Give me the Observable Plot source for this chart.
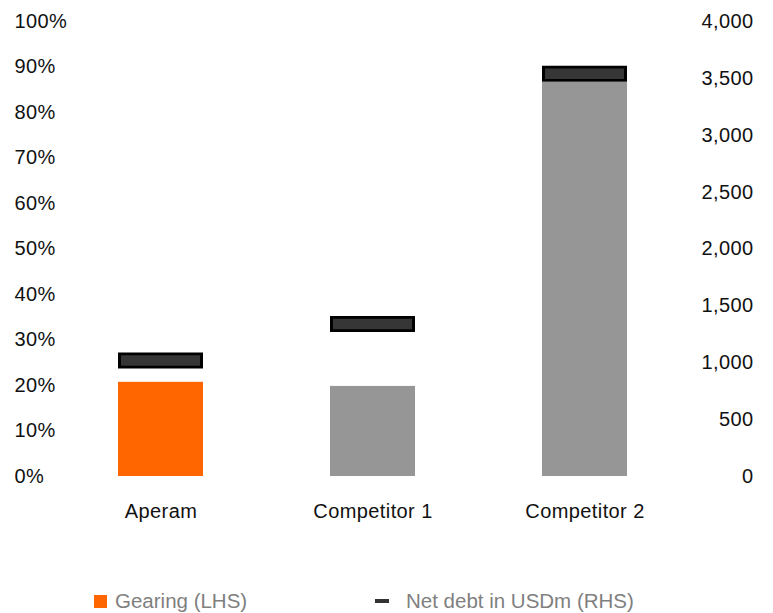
<!DOCTYPE html>
<html>
<head>
<meta charset="utf-8">
<script src="https://cdn.jsdelivr.net/npm/d3@7"></script>
<script src="https://cdn.jsdelivr.net/npm/@observablehq/plot@0.6"></script>
<style>
  html, body { margin: 0; padding: 0; background: #fff; }
  body { width: 773px; height: 613px; position: relative; overflow: hidden; font-family: "Liberation Sans", Arial, sans-serif; }
  #chart { position: absolute; left: 0; top: 0; }
  .leg { position: absolute; font-size: 20.5px; color: #7f7f7f; line-height: 1; white-space: nowrap; }
  .sw { position: absolute; }
</style>
</head>
<body>
<div id="chart"></div>
<div class="sw" style="left:94px; top:595px; width:13px; height:13px; background:#ff6600;"></div>
<div class="leg" style="left:115px; top:591px;">Gearing (LHS)</div>
<div class="sw" style="left:375px; top:599px; width:14px; height:4px; background:#333333;"></div>
<div class="leg" style="left:406px; top:591px;">Net debt in USDm (RHS)</div>
<script>
const categories = ["Aperam", "Competitor 1", "Competitor 2"];
const gearing = [20.7, 19.8, 86.6];          // % (LHS)
const netDebt = [1020, 1340, 3540];          // USDm (RHS)
const barColors = ["#ff6600", "#969696", "#969696"];
const leftTicks = [0, 10, 20, 30, 40, 50, 60, 70, 80, 90, 100];
const rightTicks = [0, 500, 1000, 1500, 2000, 2500, 3000, 3500, 4000];
const rightMax = 4000, leftMax = 100;

const toLeft = v => v / rightMax * leftMax;
const data = categories.map((c, i) => ({cat: c, gearing: gearing[i], debt: netDebt[i], debtL: toLeft(netDebt[i]), color: barColors[i]}));

const chart = Plot.plot({
  width: 773,
  height: 540,
  marginTop: 21,
  marginBottom: 64,
  marginLeft: 53,
  marginRight: 82,
  style: {fontFamily: "'Liberation Sans', Arial, sans-serif", fontSize: "20px", color: "#111", letterSpacing: "0.4px", background: "#fff"},
  x: {domain: categories, paddingInner: 0.6, paddingOuter: 0.3, label: null},
  y: {domain: [0, leftMax], label: null},
  marks: [
    Plot.barY(data, {x: "cat", y: "gearing", fill: "color"}),
    Plot.tickY(data, {x: "cat", y: "debtL", stroke: "#000", strokeWidth: 16}),
    Plot.tickY(data, {x: "cat", y: "debtL", stroke: "#363636", strokeWidth: 10.5, inset: 3}),
    Plot.axisX({tickSize: 0, tickPadding: 27, label: null}),
    Plot.axisY(leftTicks, {anchor: "left", tickSize: 0, textAnchor: "start", dx: -30, tickFormat: d => d + "%", label: null}),
    Plot.axisY(rightTicks.map(toLeft), {anchor: "right", tickSize: 0, textAnchor: "end", dx: 53, tickFormat: d => d3.format(",")(Math.round(d / leftMax * rightMax)), label: null})
  ]
});
document.getElementById("chart").appendChild(chart);
</script>
</body>
</html>
